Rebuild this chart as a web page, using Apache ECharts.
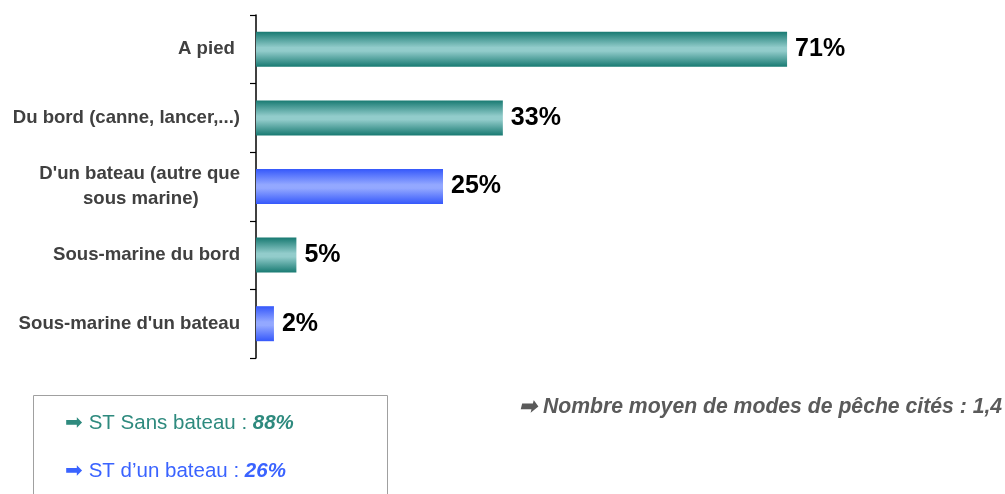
<!DOCTYPE html>
<html>
<head>
<meta charset="utf-8">
<script src="https://cdn.jsdelivr.net/npm/echarts@6/dist/echarts.min.js"></script>
<style>
html,body{margin:0;padding:0;background:#fff;}
#chart{width:1005px;height:494px;}
</style>
</head>
<body>
<div id="chart"></div>
<script>
var categories = ['A pied ', 'Du bord (canne, lancer,...)', "D'un bateau (autre que\nsous marine)        ", 'Sous-marine du bord', "Sous-marine d'un bateau"];
var values = [71, 33, 25, 5.4, 2.4];
var groups = ['sans', 'sans', 'bateau', 'sans', 'bateau'];

function grad(dark, light) {
  return new echarts.graphic.LinearGradient(0, 0, 0, 1, [
    {offset: 0, color: dark},
    {offset: 0.45, color: light},
    {offset: 0.55, color: light},
    {offset: 1, color: dark}
  ]);
}
var colors = {
  sans: grad('#187a72', '#92cccb'),
  bateau: grad('#3558fb', '#93a8ff')
};

var chart = echarts.init(document.getElementById('chart'));
chart.setOption({
  animation: false,
  grid: {left: 256, top: 15, height: 343, width: 748},
  xAxis: {
    type: 'value', min: 0, max: 100, show: false
  },
  yAxis: {
    type: 'category',
    inverse: true,
    data: categories,
    axisLine: {lineStyle: {color: '#000', width: 1.5}},
    axisTick: {show: true, length: 6, lineStyle: {color: '#000', width: 1.2}},
    axisLabel: {
      margin: 16,
      color: '#404040',
      fontWeight: 'bold',
      fontSize: 18.6,
      lineHeight: 25,
      fontFamily: 'Liberation Sans, Arial, sans-serif'
    }
  },
  series: [{
    type: 'bar',
    barWidth: 35,
    data: values.map(function (v, i) {
      return {value: v, itemStyle: {color: colors[groups[i]]}};
    }),
    label: {
      show: true,
      position: 'right',
      distance: 8,
      formatter: function (p) { return Math.round(p.value) + '%'; },
      color: '#000',
      fontWeight: 'bold',
      fontSize: 25,
      fontFamily: 'Liberation Sans, Arial, sans-serif'
    }
  }],
  graphic: [
    {type: 'rect', shape: {x: 33.5, y: 395.5, width: 354, height: 110},
     style: {fill: 'none', stroke: '#a0a0a0', lineWidth: 1}},
    {type: 'text', x: 65, y: 423,
     style: {text: '➡ ST Sans bateau : {b|88%}', fill: '#2e8a7e', fontSize: 20.5,
       fontFamily: 'Liberation Sans, Arial, sans-serif', verticalAlign: 'middle',
       rich: {b: {fontWeight: 'bold', fontStyle: 'italic', fontSize: 20.5, fill: '#2e8a7e'}}}},
    {type: 'text', x: 65, y: 471,
     style: {text: '➡ ST d\u2019un bateau : {b|26%}', fill: '#3a63ff', fontSize: 20.5,
       fontFamily: 'Liberation Sans, Arial, sans-serif', verticalAlign: 'middle',
       rich: {b: {fontWeight: 'bold', fontStyle: 'italic', fontSize: 20.5, fill: '#3a63ff'}}}},
    {type: 'text', x: 519, y: 407,
     style: {text: '➡ Nombre moyen de modes de pêche cités : 1,4', fill: '#5a5a5a', fontSize: 21.2,
       fontWeight: 'bold', fontStyle: 'italic',
       fontFamily: 'Liberation Sans, Arial, sans-serif', verticalAlign: 'middle'}}
  ]
});
</script>
</body>
</html>
